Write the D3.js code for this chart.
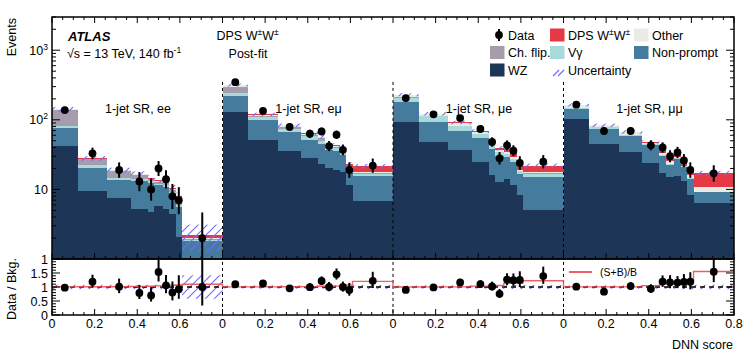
<!DOCTYPE html>
<html><head><meta charset="utf-8">
<script src="https://cdn.jsdelivr.net/npm/d3@7"></script>
<style>
body{margin:0;background:#fff}
text{font-family:"Liberation Sans",Arial,Helvetica,sans-serif;fill:#000}
</style>
</head><body>
<svg id="c" width="753" height="360"></svg>
<script>
// ---------------- data ----------------
const regions = ["1-jet SR, ee", "1-jet SR, eμ", "1-jet SR, μe", "1-jet SR, μμ"];
const binEdges = [0, 0.12, 0.26, 0.37, 0.45, 0.48, 0.52, 0.55, 0.58, 0.61, 0.8];
const xTickLabels = ["0", "0.2", "0.4", "0.6"];
const lastTickLabel = "0.8";
const ratioTickLabels = [0, 0.5, 1, 1.5];
// 10 bins per region, regions in order ee, eμ, μe, μμ
const wz = [42, 9.5, 7.6, 5.2, 4.7, 5.8, 5.3, 4.5, 2.1, 0.6,
            129, 52, 35.6, 28.6, 22.9, 20.5, 19, 17.7, 11.7, 6.8,
            93, 48, 37.3, 24.7, 16.3, 12.7, 14.2, 11.4, 8.2, 5.0,
            102, 45.4, 34.4, 23.9, 17.2, 15, 15.4, 13.1, 8.4, 6.4];
const nonPrompt = [33, 11, 5.9, 8, 7.8, 5.6, 5.5, 4.2, 3.5, 1.2,
                   89, 48, 31, 23.4, 21.6, 16.5, 17, 13.7, 6.8, 8.6,
                   87, 45, 31.7, 30.3, 22.1, 17.8, 14.8, 13.1, 8.3, 10,
                   39, 29.3, 23.4, 19.1, 12.6, 7.5, 12.2, 7.8, 5.8, 2.7];
const vgamma = [6.5, 1.6, 1.0, 0.8, 0.8, 0.6, 0.6, 0.5, 0.4, 0.1,
                25, 10, 8, 5.8, 5, 3, 3, 3, 1.5, 1.4,
                28, 19, 11.6, 7, 5, 4, 3, 2.5, 1.8, 1.8,
                6, 3, 2.5, 1.5, 1.2, 1, 0.8, 0.6, 0.5, 0.2];
const chFlip = [57, 4.8, 3.8, 2.1, 0.7, 0.7, 1.5, 0.5, 1.4, 0.05,
                53, 5, 5.4, 3, 4.5, 0.5, 1.5, 1.4, 0.5, 0.3,
                8, 3, 2, 1, 0.8, 0.5, 0.5, 0.4, 0.3, 0.2,
                0, 0, 0, 0, 0, 0, 0, 0, 0, 0];
const other = [3, 0.8, 0.5, 0.4, 0.3, 0.3, 0.3, 0.3, 0.2, 0.05,
               20, 4, 3, 2.5, 2, 1.5, 1.5, 1.2, 0.8, 0.9,
               13, 7, 8.4, 4, 2.8, 2, 1.5, 1.6, 0.6, 1.0,
               16, 5.3, 6.4, 1.5, 2.5, 2.2, 1.0, 0.5, 1.3, 1.7];
const dps = [0.5, 0.2, 0.2, 0.35, 0.4, 0.5, 0.6, 0.6, 0.55, 0.2,
             1, 0.5, 0.6, 0.8, 1.5, 1.3, 1.3, 1.8, 1.5, 3.6,
             0.5, 0.5, 0.5, 2, 2.4, 1.9, 4.4, 3.8, 2.7, 4,
             0.5, 0.3, 0.3, 2.3, 3.4, 2.6, 2.9, 4.4, 3.5, 6.1];
const dataCounts = [138, 33, 19, 13, 10, 20, 14, 8, 7, 2,
                    347, 134, 79, 63, 68, 42, 61, 37, 19, 22,
                    205, 120, 106, 74, 48, 28, 43, 36, 24, 25,
                    165, 69, 69, 43, 40, 30, 34, 26, 19, 17];
const relUnc = [0.08, 0.08, 0.08, 0.08, 0.08, 0.08, 0.08, 0.09, 0.10, 0.42,
                0.05, 0.06, 0.06, 0.06, 0.06, 0.07, 0.07, 0.07, 0.08, 0.07,
                0.05, 0.06, 0.06, 0.06, 0.06, 0.07, 0.07, 0.07, 0.08, 0.07,
                0.05, 0.06, 0.06, 0.06, 0.07, 0.07, 0.07, 0.08, 0.08, 0.08];

const keys = ["WZ", "Non-prompt", "Vγ", "Ch. flip.", "Other", "DPS"];
const colors = {"WZ": "#1d3557", "Non-prompt": "#457b9d", "Vγ": "#a8dadc",
                "Ch. flip.": "#a69cab", "Other": "#ebebe6", "DPS": "#e63946"};

// ---------------- layout ----------------
const L = 52, R = 734, T = 17, MB = 259, RB = 315;
const span = 0.8, nReg = regions.length, nBin = binEdges.length - 1;
const svg = d3.select("#c");

const x = d3.scaleLinear().domain([0, nReg * span]).range([L, R]);
const y = d3.scaleLog().domain([1, 3000]).range([MB, T]).clamp(true);
const yr = d3.scaleLinear().domain([0, 2]).range([RB, MB]).clamp(true);
const yv = v => y(Math.max(v, 1e-3));

const bins = [];
for (let r = 0; r < nReg; r++) for (let i = 0; i < nBin; i++) {
  const k = r * nBin + i;
  const b = {x0: r * span + binEdges[i], x1: r * span + binEdges[i + 1],
    "WZ": wz[k], "Non-prompt": nonPrompt[k], "Vγ": vgamma[k],
    "Ch. flip.": chFlip[k], "Other": other[k], "DPS": dps[k],
    data: dataCounts[k], unc: relUnc[k]};
  b.bkg = b["WZ"] + b["Non-prompt"] + b["Vγ"] + b["Ch. flip."] + b["Other"];
  b.tot = b.bkg + b["DPS"];
  b.xc = (b.x0 + b.x1) / 2;
  const n = b.data;
  b.lo = n > 0 ? n - Math.sqrt(n - 0.25) : 0;
  b.hi = n + Math.sqrt(n + 0.75) + 1;
  bins.push(b);
}
const series = d3.stack().keys(keys)(bins);

const defs = svg.append("defs");
const pat = defs.append("pattern").attr("id", "hatch").attr("patternUnits", "userSpaceOnUse")
  .attr("width", 9).attr("height", 9);
pat.append("path").attr("d", "M-1,10 L10,-1 M-2,2 L2,-2 M7,11 L11,7")
  .attr("stroke", "#6b6bff").attr("stroke-width", 1.1);
defs.append("clipPath").attr("id", "cm").append("rect").attr("x", L).attr("y", T).attr("width", R - L).attr("height", MB - T);
defs.append("clipPath").attr("id", "cr").append("rect").attr("x", L).attr("y", MB).attr("width", R - L).attr("height", RB - MB);

// ---------------- main panel ----------------
const gm = svg.append("g").attr("clip-path", "url(#cm)");
series.forEach(s => {
  gm.append("g").selectAll("rect").data(s).join("rect")
    .attr("x", d => x(d.data.x0)).attr("width", d => x(d.data.x1) - x(d.data.x0))
    .attr("y", d => yv(d[1])).attr("height", d => Math.max(0, yv(d[0]) - yv(d[1])))
    .attr("fill", colors[s.key]).attr("shape-rendering", "crispEdges");
});
gm.append("g").selectAll("rect").data(bins).join("rect")
  .attr("x", d => x(d.x0)).attr("width", d => x(d.x1) - x(d.x0))
  .attr("y", d => yv(d.tot * (1 + d.unc))).attr("height", d => yv(d.tot * (1 - d.unc)) - yv(d.tot * (1 + d.unc)))
  .attr("fill", "url(#hatch)");
// region separators
for (let r = 1; r < nReg; r++) {
  svg.append("line").attr("x1", x(r * span)).attr("x2", x(r * span))
    .attr("y1", y(350)).attr("y2", RB).attr("stroke", "#000").attr("stroke-width", 1)
    .attr("stroke-dasharray", "3,3");
}
gm.append("g").selectAll("line").data(bins).join("line")
  .attr("x1", d => x(d.xc)).attr("x2", d => x(d.xc))
  .attr("y1", d => yv(d.hi)).attr("y2", d => yv(d.lo))
  .attr("stroke", "#000").attr("stroke-width", 2);
gm.append("g").selectAll("circle").data(bins).join("circle")
  .attr("cx", d => x(d.xc)).attr("cy", d => yv(d.data)).attr("r", 3.9).attr("fill", "#000");

// ---------------- ratio panel ----------------
const gr = svg.append("g").attr("clip-path", "url(#cr)");
gr.append("g").selectAll("rect").data(bins).join("rect")
  .attr("x", d => x(d.x0)).attr("width", d => x(d.x1) - x(d.x0))
  .attr("y", d => yr(1 + d.unc)).attr("height", d => yr(1 - d.unc) - yr(1 + d.unc))
  .attr("fill", "url(#hatch)");
gr.append("line").attr("x1", L).attr("x2", R).attr("y1", yr(1)).attr("y2", yr(1))
  .attr("stroke", "#000").attr("stroke-width", 1.6).attr("stroke-dasharray", "5,4");
const stepPts = [];
bins.forEach(d => { const v = d.tot / d.bkg; stepPts.push([x(d.x0), yr(v)], [x(d.x1), yr(v)]); });
gr.append("path").attr("d", d3.line()(stepPts)).attr("fill", "none")
  .attr("stroke", "#ee4d57").attr("stroke-width", 1.4).attr("stroke-opacity", 0.9);
gr.append("g").selectAll("line").data(bins).join("line")
  .attr("x1", d => x(d.xc)).attr("x2", d => x(d.xc))
  .attr("y1", d => yr(d.hi / d.bkg)).attr("y2", d => yr(d.lo / d.bkg))
  .attr("stroke", "#000").attr("stroke-width", 2);
gr.append("g").selectAll("circle").data(bins).join("circle")
  .attr("cx", d => x(d.xc)).attr("cy", d => yr(d.data / d.bkg)).attr("r", 3.9).attr("fill", "#000");

// ---------------- frames & ticks ----------------
const ax = svg.append("g").attr("stroke", "#000").attr("fill", "none");
ax.append("rect").attr("x", L).attr("y", T).attr("width", R - L).attr("height", MB - T).attr("stroke-width", 1.5);
ax.append("rect").attr("x", L).attr("y", MB).attr("width", R - L).attr("height", RB - MB).attr("stroke-width", 1.5);
const xt = d3.range(0, nReg * span + 1e-9, 0.05);
const isMaj = v => Math.abs(v / 0.2 - Math.round(v / 0.2)) < 1e-6;
xt.forEach(v => {
  const len = isMaj(v) ? 6 : 3;
  [[MB, -1], [T, 1], [RB, -1]].forEach(([yy, dir]) => {
    ax.append("line").attr("x1", x(v)).attr("x2", x(v)).attr("y1", yy).attr("y2", yy + dir * len).attr("stroke-width", 1);
  });
});
y.ticks().forEach(v => {
  const maj = Math.abs(Math.log10(v) - Math.round(Math.log10(v))) < 1e-9;
  const len = maj ? 8 : 4;
  ax.append("line").attr("x1", L).attr("x2", L + len).attr("y1", y(v)).attr("y2", y(v)).attr("stroke-width", 1);
  ax.append("line").attr("x1", R).attr("x2", R - len).attr("y1", y(v)).attr("y2", y(v)).attr("stroke-width", 1);
});
yr.ticks(20).forEach(v => {
  const maj = Math.abs(v * 2 - Math.round(v * 2)) < 1e-9;
  const len = maj ? 8 : 4;
  ax.append("line").attr("x1", L).attr("x2", L + len).attr("y1", yr(v)).attr("y2", yr(v)).attr("stroke-width", 1);
  ax.append("line").attr("x1", R).attr("x2", R - len).attr("y1", yr(v)).attr("y2", yr(v)).attr("stroke-width", 1);
});

// ---------------- labels ----------------
const fs = 12.5;
const tx = svg.append("g").attr("font-size", fs);
for (let r = 0; r < nReg; r++) {
  xTickLabels.forEach((lab, j) => {
    tx.append("text").attr("x", x(r * span + j * 0.2)).attr("y", 327.5).attr("text-anchor", "middle").text(lab);
  });
}
tx.append("text").attr("x", x(nReg * span)).attr("y", 327.5).attr("text-anchor", "middle").text(lastTickLabel);
ratioTickLabels.forEach(v => {
  tx.append("text").attr("x", 48).attr("y", yr(v) + 4.5).attr("text-anchor", "end").text(v);
});
[1, 10, 100, 1000].forEach(v => {
  const e = Math.round(Math.log10(v));
  const t = tx.append("text").attr("x", 48).attr("y", y(v) + 4.5).attr("text-anchor", "end");
  if (e < 2) t.text(String(v));
  else { t.append("tspan").text("10"); t.append("tspan").attr("dy", -5).attr("font-size", 8.5).text(String(e)); }
});
tx.append("text").attr("transform", "translate(16,18) rotate(-90)").attr("text-anchor", "end").text("Events");
tx.append("text").attr("transform", "translate(16,289) rotate(-90)").attr("text-anchor", "middle").text("Data / Bkg.");
tx.append("text").attr("x", 733).attr("y", 349).attr("text-anchor", "end").text("DNN score");

tx.append("text").attr("x", 68).attr("y", 41).attr("font-weight", "bold").attr("font-style", "italic").attr("font-size", 13).text("ATLAS");
const lum = tx.append("text").attr("x", 67).attr("y", 57.5);
lum.append("tspan").text("√s = 13 TeV, 140 fb");
lum.append("tspan").attr("dy", -5).attr("font-size", 8.5).text("-1");
const sig = tx.append("text").attr("x", 216.5).attr("y", 40);
sig.append("tspan").text("DPS W");
sig.append("tspan").attr("dy", -5).attr("font-size", 8.5).text("±");
sig.append("tspan").attr("dy", 5).text("W");
sig.append("tspan").attr("dy", -5).attr("font-size", 8.5).text("±");
tx.append("text").attr("x", 248).attr("y", 57.5).attr("text-anchor", "middle").text("Post-fit");

regions.forEach((lab, r) => {
  tx.append("text").attr("x", x(r * span) + 86).attr("y", 112.5)
    .attr("text-anchor", "middle").text(lab);
});

// ---------------- legend ----------------
const lg = svg.append("g").attr("font-size", fs);
const rows = [35, 52.5, 70];
const cols = [490, 550, 634];
const entries = [
  {c: 0, r: 0, type: "data", label: "Data"},
  {c: 1, r: 0, type: "box", key: "DPS", label: "DPS W±W±"},
  {c: 2, r: 0, type: "box", key: "Other", label: "Other"},
  {c: 0, r: 1, type: "box", key: "Ch. flip.", label: "Ch. flip."},
  {c: 1, r: 1, type: "box", key: "Vγ", label: "Vγ"},
  {c: 2, r: 1, type: "box", key: "Non-prompt", label: "Non-prompt"},
  {c: 0, r: 2, type: "box", key: "WZ", label: "WZ"},
  {c: 1, r: 2, type: "hatch", label: "Uncertainty"}
];
entries.forEach(e => {
  const cx = cols[e.c], cy = rows[e.r];
  if (e.type === "data") {
    lg.append("line").attr("x1", cx + 9).attr("x2", cx + 9).attr("y1", cy - 6).attr("y2", cy + 6).attr("stroke", "#000").attr("stroke-width", 2);
    lg.append("circle").attr("cx", cx + 9).attr("cy", cy).attr("r", 3.9).attr("fill", "#000");
  } else if (e.type === "box") {
    lg.append("rect").attr("x", cx).attr("y", cy - 6.5).attr("width", 14.5).attr("height", 13).attr("fill", colors[e.key]);
  } else {
    lg.append("path").attr("d", `M${cx + 3},${cy + 6} L${cx + 9},${cy} M${cx + 8},${cy + 6} L${cx + 14},${cy}`)
      .attr("stroke", "#6b6bff").attr("stroke-width", 1.2);
  }
  const t = lg.append("text").attr("x", cx + 18).attr("y", cy + 4.5);
  if (e.key === "DPS") {
    t.append("tspan").text("DPS W");
    t.append("tspan").attr("dy", -5).attr("font-size", 8.5).text("±");
    t.append("tspan").attr("dy", 5).text("W");
    t.append("tspan").attr("dy", -5).attr("font-size", 8.5).text("±");
  } else t.text(e.label);
});
// ratio legend
svg.append("line").attr("x1", 569).attr("x2", 592).attr("y1", 272).attr("y2", 272)
  .attr("stroke", "#ee4d57").attr("stroke-width", 1.8);
svg.append("text").attr("x", 600).attr("y", 275.5).attr("font-size", 10.5).text("(S+B)/B");
</script>
</body></html>
